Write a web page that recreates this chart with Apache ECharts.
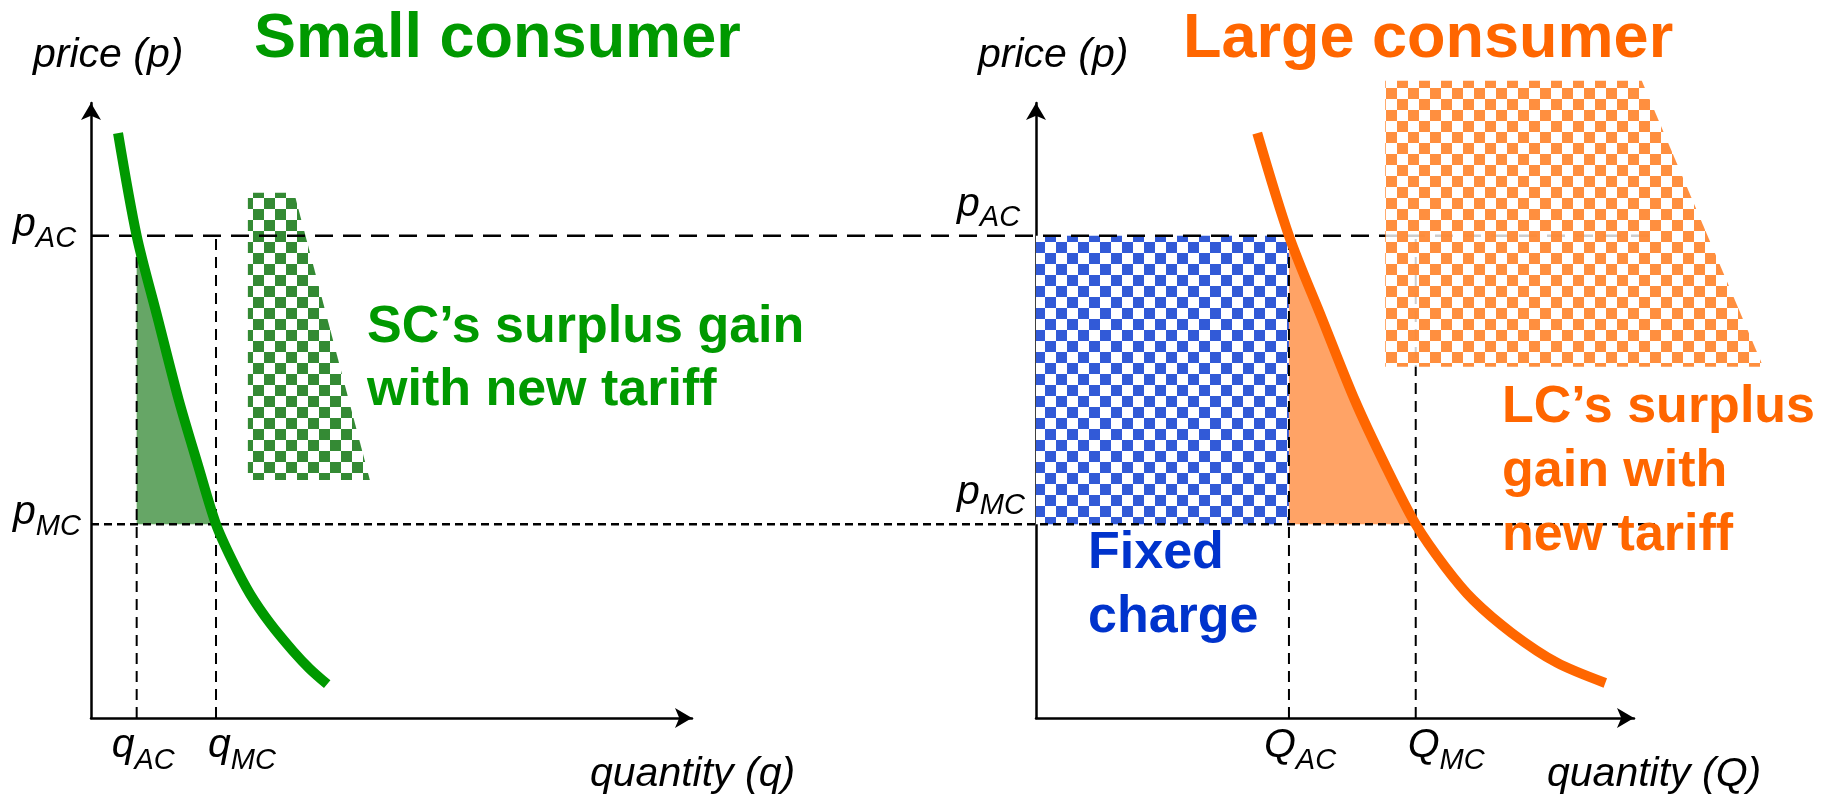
<!DOCTYPE html>
<html>
<head>
<meta charset="utf-8">
<script src="https://cdn.jsdelivr.net/npm/echarts@6/dist/echarts.min.js"></script>
<style>
  html, body { margin: 0; padding: 0; background: #ffffff; }
  #chart { width: 1832px; height: 796px; }
</style>
</head>
<body>
<div id="chart"></div>
<script>
// ---- values (both panels share the price scale) ----
const axisMax = 100;
const pAC = 78.4;
const pMC = 31.5;

// small consumer panel
const qAC = 7.6;
const qMC = 20.8;
const scDemandQ = [4.5, 7.6, 11.1, 14.6, 17.8, 20.8, 23.5, 26.5, 29.8, 33.6, 36.4, 39.3];
const scDemandP = [95.1, 78.4, 65.0, 51.7, 41.1, 31.5, 25.6, 20.1, 15.4, 10.9, 8.0, 5.5];
const scGainQ = [26.1, 33.8, 46.4, 26.1];
const scGainP = [85.4, 85.4, 38.7, 38.7];

// large consumer panel
const QAC = 42.3;
const QMC = 63.5;
const lcDemandQ = [37.0, 42.3, 47.8, 53.3, 58.4, 63.5, 68.4, 73.1, 79.6, 87.1, 95.2];
const lcDemandP = [95.1, 78.4, 65.0, 51.7, 41.1, 31.5, 24.6, 19.2, 13.8, 9.0, 5.7];
const lcGainQ = [58.4, 101.3, 121.6, 58.4];
const lcGainP = [103.6, 103.6, 57.1, 57.1];

// price guides run from the left price axis to just past the right quantity axis
const guideEndQ = 103.5;

// axis tick labels: [main letter, subscript, value]
const priceTicks = [['p', 'AC', pAC], ['p', 'MC', pMC]];
const scQtyTicks = [['q', 'AC', qAC], ['q', 'MC', qMC]];
const lcQtyTicks = [['Q', 'AC', QAC], ['Q', 'MC', QMC]];

// ---- styling ----
const FONT = '"Liberation Sans", Arial, Helvetica, sans-serif';
const GREEN = '#009900';
const ORANGE = '#ff6600';
const BLUE_TEXT = '#0033cc';

const zip = (xs, ys) => xs.map((x, i) => [x, ys[i]]);

function checker(color, bg, cell) {
  const c = document.createElement('canvas');
  c.width = c.height = cell * 2;
  const ctx = c.getContext('2d');
  ctx.fillStyle = bg;
  ctx.fillRect(0, 0, cell * 2, cell * 2);
  ctx.fillStyle = color;
  ctx.fillRect(0, 0, cell, cell);
  ctx.fillRect(cell, cell, cell, cell);
  return { image: c, repeat: 'repeat' };
}

const greenChecker = checker('#348a34', '#ffffff', 11);
const blueChecker = checker('#325ad7', '#ffffff', 11);
const orangeChecker = checker('rgba(255,136,51,0.94)', 'rgba(255,255,255,0.8)', 11);

function polygonSeries(axis, pts, fill, z) {
  return {
    type: 'custom',
    xAxisIndex: axis,
    yAxisIndex: axis,
    silent: true,
    clip: false,
    z: z,
    data: [0],
    renderItem: (params, api) => ({
      type: 'polygon',
      shape: { points: pts.map(p => api.coord(p)) },
      style: { fill: fill, stroke: null }
    })
  };
}

// area between a demand curve and the AC quantity, from pAC down to pMC
function surplusArea(qs, ps, qStart) {
  const pts = zip(qs, ps).filter(p => p[1] <= pAC && p[1] >= pMC);
  return [[qStart, pAC], ...pts, [qStart, pMC]];
}

function demandLine(axis, qs, ps, color) {
  return {
    type: 'line',
    xAxisIndex: axis,
    yAxisIndex: axis,
    data: zip(qs, ps),
    symbol: 'none',
    smooth: 0.3,
    silent: true,
    z: 6,
    lineStyle: { color: color, width: 10, cap: 'butt' }
  };
}

function dropLine(axis, q) {
  return {
    type: 'line',
    xAxisIndex: axis,
    yAxisIndex: axis,
    data: [[q, 0], [q, pAC]],
    symbol: 'none',
    silent: true,
    z: 3,
    lineStyle: { color: '#000', width: 2, type: [11, 7] }
  };
}

const axisLine = {
  show: true,
  symbol: ['none', 'arrow'],
  symbolSize: [15, 17],
  lineStyle: { color: '#000', width: 2.5 }
};

function valueAxis(grid) {
  return {
    type: 'value', gridIndex: grid, min: 0, max: axisMax,
    axisLine: axisLine, axisTick: { show: false }, axisLabel: { show: false },
    splitLine: { show: false }
  };
}

const chart = echarts.init(document.getElementById('chart'), null, { renderer: 'canvas' });

chart.setOption({
  animation: false,
  backgroundColor: '#ffffff',
  grid: [
    { left: 91, right: 1140, top: 103, bottom: 78 },
    { left: 1036, right: 198, top: 103, bottom: 78 }
  ],
  xAxis: [valueAxis(0), valueAxis(1)],
  yAxis: [valueAxis(0), valueAxis(1)],
  series: [
    // small consumer
    polygonSeries(0, surplusArea(scDemandQ, scDemandP, qAC), '#66a666', 1),
    polygonSeries(0, zip(scGainQ, scGainP), greenChecker, 1),
    dropLine(0, qAC),
    dropLine(0, qMC),
    demandLine(0, scDemandQ, scDemandP, GREEN),
    // large consumer
    polygonSeries(1, [[0, pAC], [QAC, pAC], [QAC, pMC], [0, pMC]], blueChecker, 1),
    polygonSeries(1, surplusArea(lcDemandQ, lcDemandP, QAC), '#ffa366', 1),
    dropLine(1, QAC),
    dropLine(1, QMC),
    polygonSeries(1, zip(lcGainQ, lcGainP), orangeChecker, 5),
    demandLine(1, lcDemandQ, lcDemandP, ORANGE)
  ]
});

// ---- text and cross-panel guides, placed through the axes ----
const measureCtx = document.createElement('canvas').getContext('2d');
function textWidth(t, size) {
  measureCtx.font = 'italic ' + size + 'px ' + FONT;
  return measureCtx.measureText(t).width;
}
const BASE = 0.3465; // baseline offset of a middle-aligned line, in em

function plainText(text, x, baseline, size, color, opts) {
  opts = opts || {};
  return {
    type: 'text', z: 20, silent: true,
    style: {
      text: text, x: x, y: baseline - BASE * size,
      fontSize: size, fontFamily: FONT,
      fontWeight: opts.weight || 'normal', fontStyle: opts.style || 'normal',
      fill: color, align: 'left', verticalAlign: 'middle'
    }
  };
}

function blockText(text, x, firstBaseline, size, lineHeight, color) {
  return {
    type: 'text', z: 20, silent: true,
    style: {
      text: text, x: x, y: firstBaseline - lineHeight / 2 - BASE * size,
      fontSize: size, fontFamily: FONT, fontWeight: 'bold',
      lineHeight: lineHeight, fill: color, align: 'left', verticalAlign: 'top'
    }
  };
}

function subLabel(main, sub, x, mainBase, subBase) {
  const w = textWidth(main, 41);
  return {
    type: 'group', z: 20, silent: true,
    children: [
      plainText(main, x, mainBase, 41, '#000', { style: 'italic' }),
      plainText(sub, x + w, subBase, 29, '#000', { style: 'italic' })
    ]
  };
}

const px = (grid, q, p) => chart.convertToPixel({ gridIndex: grid }, [q, p]);
const origin0 = px(0, 0, 0);
const origin1 = px(1, 0, 0);

const graphics = [];

// horizontal price guides spanning both panels
[[pAC, [18, 10]], [pMC, [8, 5]]].forEach(([p, dash]) => {
  const a = px(0, 0, p);
  const b = px(1, guideEndQ, p);
  graphics.push({
    type: 'line', z: 3, silent: true,
    shape: { x1: a[0], y1: a[1], x2: b[0], y2: b[1] },
    style: { stroke: '#000', lineWidth: 2.5, lineDash: dash }
  });
});

// price tick labels: left of the first axis, above the guides on the second
priceTicks.forEach(([m, s, p]) => {
  const y = px(0, 0, p)[1];
  graphics.push(subLabel(m, s, origin0[0] - 78, y + 3, y + 13));
  graphics.push(subLabel(m, s, origin1[0] - 79, y - 17, y - 8));
});

// quantity tick labels under each axis
const qShift = { AC: -25, MC: -8 };
scQtyTicks.forEach(([m, s, q]) => {
  const pt = px(0, q, 0);
  graphics.push(subLabel(m, s, pt[0] + qShift[s], pt[1] + 42, pt[1] + 53));
});
lcQtyTicks.forEach(([m, s, q]) => {
  const pt = px(1, q, 0);
  graphics.push(subLabel(m, s, pt[0] + qShift[s], pt[1] + 42, pt[1] + 53));
});

// axis names
graphics.push(plainText('price (p)', origin0[0] - 58, 70, 41, '#000', { style: 'italic' }));
graphics.push(plainText('price (p)', origin1[0] - 58, 70, 41, '#000', { style: 'italic' }));
graphics.push(plainText('quantity (q)', 590, 789, 41, '#000', { style: 'italic' }));
graphics.push(plainText('quantity (Q)', 1547, 789, 41, '#000', { style: 'italic' }));

// panel titles and annotations
graphics.push(plainText('Small consumer', 254, 61, 63, GREEN, { weight: 'bold' }));
graphics.push(plainText('Large consumer', 1183, 61, 63, ORANGE, { weight: 'bold' }));
graphics.push(blockText('SC\u2019s surplus gain\nwith new tariff', 367, 346, 52, 63, GREEN));
graphics.push(blockText('LC\u2019s surplus\ngain with\nnew tariff', 1502, 426, 52, 64, ORANGE));
graphics.push(blockText('Fixed\ncharge', 1088, 572, 52, 64, BLUE_TEXT));

chart.setOption({ graphic: graphics });
</script>
</body>
</html>
